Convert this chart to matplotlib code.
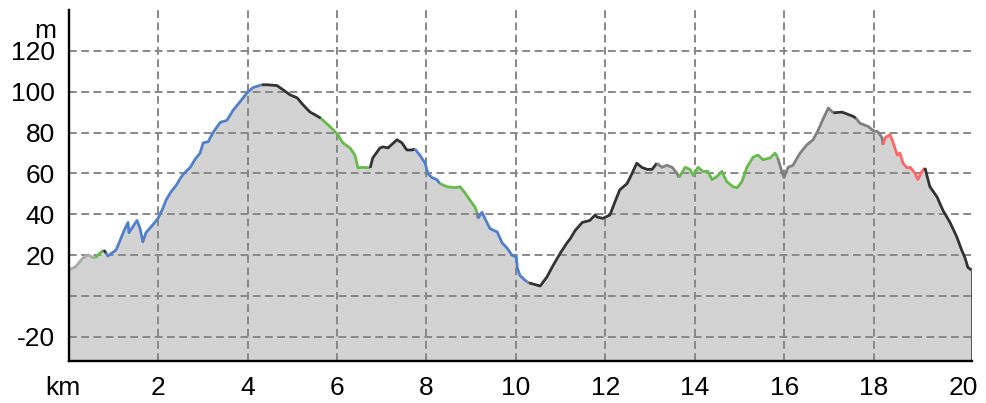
import numpy as np
import matplotlib.pyplot as plt
import matplotlib.transforms as mtransforms

# -----------------------------
# 1. PROFILE DATA
# -----------------------------
km = [0.00, 0.15, 0.32, 0.44, 0.57, 0.59, 0.70, 0.79, 0.84, 0.88,
      1.06, 1.13, 1.24, 1.33, 1.35, 1.44, 1.53, 1.60, 1.66, 1.73,
      1.89, 2.00, 2.11, 2.18, 2.29, 2.40, 2.51, 2.58, 2.72, 2.83,
      2.94, 3.01, 3.12, 3.23, 3.39, 3.54, 3.68, 3.83, 3.99, 4.12,
      4.32, 4.44, 4.66, 4.79, 4.95, 5.11, 5.24, 5.40, 5.51, 5.64,
      5.84, 6.02, 6.13, 6.29, 6.40, 6.47, 6.56, 6.74, 6.80, 6.96,
      7.03, 7.14, 7.34, 7.45, 7.56, 7.68, 7.74, 7.85, 7.97, 8.03,
      8.12, 8.23, 8.30, 8.46, 8.64, 8.75, 8.86, 8.97, 9.08, 9.13,
      9.15, 9.24, 9.35, 9.42, 9.58, 9.69, 9.80, 9.91, 10.01, 10.03,
      10.09, 10.20, 10.25, 10.29, 10.38, 10.54, 10.69, 10.83, 10.99, 11.14,
      11.21, 11.32, 11.48, 11.65, 11.77, 11.81, 11.94, 12.10, 12.21, 12.32,
      12.48, 12.55, 12.70, 12.81, 12.93, 13.04, 13.15, 13.26, 13.37, 13.49,
      13.60, 13.64, 13.78, 13.89, 13.96, 14.07, 14.18, 14.29, 14.38, 14.49,
      14.60, 14.71, 14.85, 14.94, 15.05, 15.16, 15.30, 15.41, 15.52, 15.68,
      15.79, 15.85, 15.94, 15.99, 16.08, 16.19, 16.35, 16.50, 16.64, 16.75,
      16.87, 16.98, 17.09, 17.29, 17.53, 17.60, 17.69, 17.87, 17.98, 18.09,
      18.18, 18.20, 18.25, 18.36, 18.43, 18.52, 18.58, 18.65, 18.74, 18.81,
      18.92, 18.98, 19.07, 19.14, 19.25, 19.41, 19.54, 19.70, 19.85, 19.96,
      20.03, 20.10, 20.18]

elev = [12.7, 14.2, 18.6, 20.1, 18.6, 18.6, 21.0, 22.5, 21.0, 19.6,
        22.5, 26.0, 32.0, 36.0, 31.0, 34.0, 37.0, 33.0, 26.5, 31.0,
        35.0, 38.0, 43.0, 47.0, 51.0, 54.0, 58.0, 60.0, 63.0, 67.0,
        70.0, 75.0, 75.5, 80.0, 85.0, 86.0, 91.0, 95.0, 99.5, 102.0,
        103.4, 103.4, 103.0, 101.0, 98.5, 97.0, 93.6, 90.0, 88.7, 87.0,
        83.0, 79.0, 75.0, 72.5, 69.0, 62.7, 63.0, 62.7, 67.6, 72.5,
        73.0, 72.5, 76.5, 75.0, 71.5, 71.5, 72.0, 69.0, 65.0, 60.0,
        58.0, 57.0, 55.0, 53.5, 53.0, 53.5, 50.5, 47.0, 43.6, 41.0,
        38.0, 41.0, 36.0, 33.0, 31.4, 26.0, 23.5, 20.0, 19.0, 13.7,
        10.0, 7.8, 6.9, 6.4, 5.9, 4.9, 9.3, 15.0, 21.0, 26.0,
        28.0, 32.0, 36.0, 37.0, 39.7, 38.7, 38.0, 39.7, 46.0, 52.0,
        55.0, 58.0, 65.0, 63.0, 62.0, 62.0, 65.0, 63.0, 64.0, 63.0,
        60.0, 58.0, 63.0, 62.0, 59.0, 63.0, 61.0, 61.0, 57.0, 58.5,
        61.0, 56.0, 53.5, 53.0, 56.0, 63.0, 68.0, 69.0, 66.7, 67.6,
        70.0, 67.6, 61.0, 58.0, 63.0, 64.0, 70.0, 74.0, 76.5, 81.0,
        87.0, 92.0, 89.7, 90.0, 88.0, 87.0, 84.5, 83.0, 81.0, 80.4,
        77.5, 74.0, 77.5, 79.0, 75.0, 69.0, 70.0, 65.0, 62.7, 63.0,
        60.0, 57.0, 61.0, 62.7, 53.5, 48.5, 42.0, 36.0, 29.0, 22.5,
        19.0, 14.0, 12.7]

# class of the stretch that starts at each point (index into km/elev)
# a = start, g = green, b = blue, d = dark, m = mid gray, r = red
grade_starts = [(0, "a"), (5, "g"), (7, "d"), (8, "b"), (40, "d"), (49, "g"),
                (57, "d"), (66, "b"), (72, "g"), (79, "m"), (80, "b"),
                (92, "m"), (93, "d"), (116, "m"), (121, "g"), (141, "m"),
                (152, "d"), (155, "m"), (161, "r"), (173, "d")]

y_ticks = [-20, 0, 20, 40, 60, 80, 100, 120]
y_labels = ["-20", "", "20", "40", "60", "80", "100", "120"]
x_ticks = [0, 2, 4, 6, 8, 10, 12, 14, 16, 18, 20]
x_labels = ["km", "2", "4", "6", "8", "10", "12", "14", "16", "18", "20"]

colors = {"a": "#aaaaaa", "g": "#66bb4b", "b": "#5080cc",
          "d": "#333333", "m": "#808080", "r": "#ff6666"}

# -----------------------------
# 2. FIGURE
# -----------------------------
plt.rcParams["font.family"] = ["Liberation Sans", "DejaVu Sans"]
fig = plt.figure(figsize=(9.86, 4.03), dpi=100)
ax = fig.add_axes([0.0695, 0.1042, 0.9158, 0.871])

y_min, y_max = -31.8, 140
ax.set_xlim(0, km[-1])
ax.set_ylim(y_min, y_max)

ax.fill_between(km, elev, y_min, color="#d3d3d3", linewidth=0, zorder=1)

bounds = [s for s, _ in grade_starts] + [len(km) - 1]
for (start, cls), end in zip(grade_starts, bounds[1:]):
    ax.plot(km[start:end + 1], elev[start:end + 1], color=colors[cls],
            linewidth=2.0, solid_capstyle="butt", zorder=3)

# closing edge at the end of the track
ax.vlines(km[-1], y_min, elev[-1], color="#333333", linewidth=1.8, zorder=3)

ax.set_axisbelow(False)
ax.grid(True, color="#888888", linewidth=1.4, linestyle=(0, (4, 2.3)))
ax.xaxis.get_gridlines()[0].set_visible(False)

ax.set_yticks(y_ticks)
ax.set_yticklabels(y_labels)
ax.set_xticks(x_ticks)
ax.set_xticklabels(x_labels)
ax.tick_params(axis="both", length=0, labelsize=19)
ax.tick_params(axis="y", pad=10)
ax.tick_params(axis="x", pad=11)

# nudge the "km" unit label a little to the left, as in the source chart
shift = mtransforms.ScaledTranslation(-6 / 100, 0, fig.dpi_scale_trans)
km_label = ax.get_xticklabels()[0]
km_label.set_transform(km_label.get_transform() + shift)

for side in ["top", "right"]:
    ax.spines[side].set_visible(False)
for side in ["left", "bottom"]:
    ax.spines[side].set_linewidth(1.7)
    ax.spines[side].set_zorder(4)

# unit label on the elevation axis
trans = mtransforms.blended_transform_factory(ax.transAxes, ax.transData)
ax.text(-0.0133, 126.5, "m", transform=trans, ha="right", va="baseline", fontsize=19)

plt.savefig("out.png", dpi=100)
